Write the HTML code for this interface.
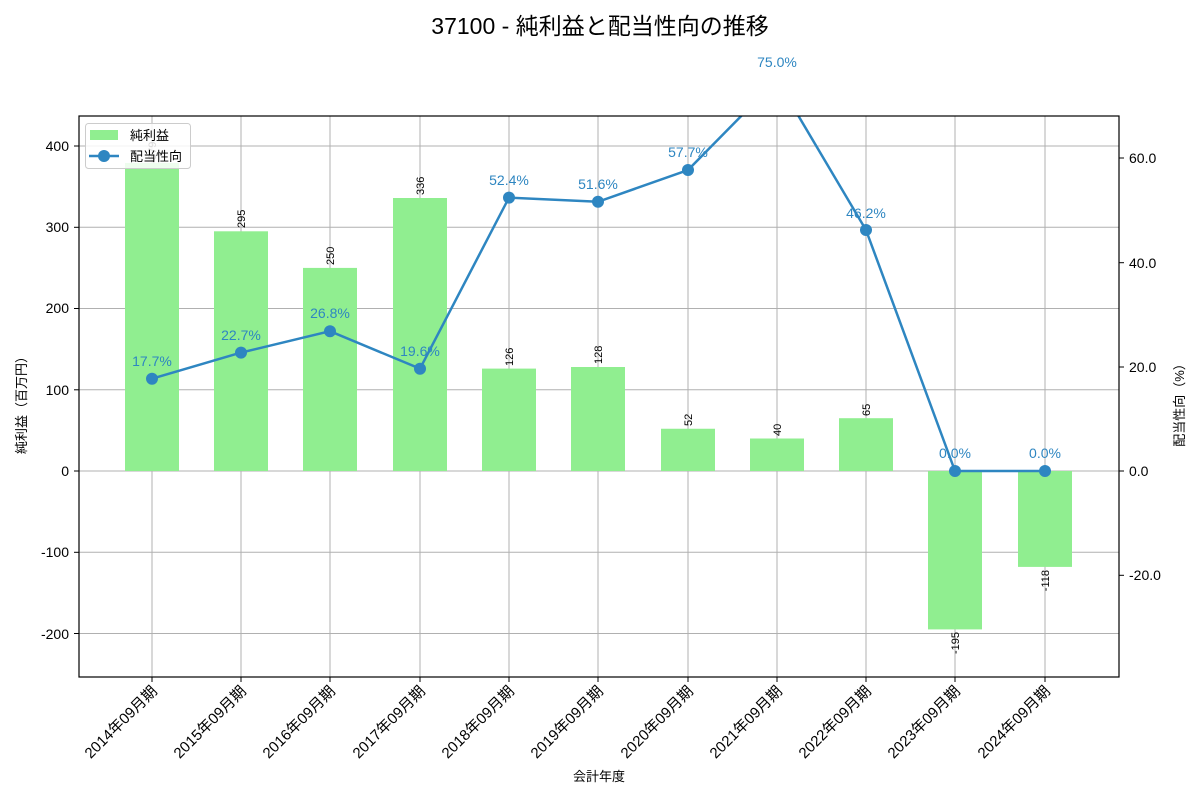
<!DOCTYPE html>
<html><head><meta charset="utf-8"><style>body{margin:0;background:#fff}svg text{font-family:"Liberation Sans","Noto Sans CJK JP",sans-serif}</style></head>
<body>
<svg width="1200" height="800" viewBox="0 0 1200 800" xmlns="http://www.w3.org/2000/svg">
<text x="600" y="34" font-size="23" text-anchor="middle" fill="#000">37100 - 純利益と配当性向の推移</text>
<defs><clipPath id="c"><rect x="79" y="116" width="1040" height="561"/></clipPath></defs>
<g stroke="#b0b0b0" stroke-width="1">
<line x1="79" x2="1119" y1="146" y2="146"/><line x1="79" x2="1119" y1="227.3" y2="227.3"/><line x1="79" x2="1119" y1="308.5" y2="308.5"/><line x1="79" x2="1119" y1="389.8" y2="389.8"/><line x1="79" x2="1119" y1="471" y2="471"/><line x1="79" x2="1119" y1="552.3" y2="552.3"/><line x1="79" x2="1119" y1="633.5" y2="633.5"/>
<line x1="152" x2="152" y1="116" y2="677"/><line x1="241" x2="241" y1="116" y2="677"/><line x1="330" x2="330" y1="116" y2="677"/><line x1="420" x2="420" y1="116" y2="677"/><line x1="509" x2="509" y1="116" y2="677"/><line x1="598" x2="598" y1="116" y2="677"/><line x1="688" x2="688" y1="116" y2="677"/><line x1="777" x2="777" y1="116" y2="677"/><line x1="866" x2="866" y1="116" y2="677"/><line x1="955" x2="955" y1="116" y2="677"/><line x1="1045" x2="1045" y1="116" y2="677"/>
</g>
<g fill="#90ee90" clip-path="url(#c)">
<rect x="125" y="163" width="54" height="308"/><rect x="214" y="231.3" width="54" height="239.7"/><rect x="303" y="267.9" width="54" height="203.1"/><rect x="393" y="198" width="54" height="273"/><rect x="482" y="368.6" width="54" height="102.4"/><rect x="571" y="367" width="54" height="104"/><rect x="661" y="428.75" width="54" height="42.25"/><rect x="750" y="438.5" width="54" height="32.5"/><rect x="839" y="418.2" width="54" height="52.8"/><rect x="928" y="471" width="54" height="158.4"/><rect x="1018" y="471" width="54" height="95.9"/>
</g>
<g font-size="11" fill="#000">
<text transform="translate(156,160) rotate(-90)">379</text>
<text transform="translate(245,228) rotate(-90)">295</text>
<text transform="translate(334,265) rotate(-90)">250</text>
<text transform="translate(424,195) rotate(-90)">336</text>
<text transform="translate(513,366) rotate(-90)">126</text>
<text transform="translate(602,364) rotate(-90)">128</text>
<text transform="translate(692,426) rotate(-90)">52</text>
<text transform="translate(781,436) rotate(-90)">40</text>
<text transform="translate(870,416) rotate(-90)">65</text>
<text transform="translate(959,632) rotate(-90)" text-anchor="end">-195</text>
<text transform="translate(1049,570) rotate(-90)" text-anchor="end">-118</text>
</g>
<g clip-path="url(#c)">
<polyline fill="none" stroke="#2e86c1" stroke-width="2.5" points="152,378.7 241,352.6 330,331.2 420,368.7 509,197.6 598,201.8 688,170 777,79.7 866,230 955,471 1045,471"/>
<g fill="#2e86c1"><circle cx="152" cy="378.7" r="6"/><circle cx="241" cy="352.6" r="6"/><circle cx="330" cy="331.2" r="6"/><circle cx="420" cy="368.7" r="6"/><circle cx="509" cy="197.6" r="6"/><circle cx="598" cy="201.8" r="6"/><circle cx="688" cy="170" r="6"/><circle cx="866" cy="230" r="6"/><circle cx="955" cy="471" r="6"/><circle cx="1045" cy="471" r="6"/></g>
</g>
<g font-size="14" fill="#2e86c1" text-anchor="middle">
<text x="152" y="366">17.7%</text><text x="241" y="340">22.7%</text><text x="330" y="318">26.8%</text><text x="420" y="356">19.6%</text><text x="509" y="185">52.4%</text><text x="598" y="189">51.6%</text><text x="688" y="157">57.7%</text><text x="777" y="67">75.0%</text><text x="866" y="218">46.2%</text><text x="955" y="458">0.0%</text><text x="1045" y="458">0.0%</text>
</g>
<rect x="79" y="116" width="1040" height="561" fill="none" stroke="#000" stroke-width="1.2"/>
<g font-size="14" fill="#000" text-anchor="end">
<text x="69" y="151">400</text><text x="69" y="232">300</text><text x="69" y="313">200</text><text x="69" y="395">100</text><text x="69" y="476">0</text><text x="69" y="557">-100</text><text x="69" y="639">-200</text>
</g>
<g stroke="#000"><line x1="74" x2="79" y1="146" y2="146"/><line x1="74" x2="79" y1="227.3" y2="227.3"/><line x1="74" x2="79" y1="308.5" y2="308.5"/><line x1="74" x2="79" y1="389.8" y2="389.8"/><line x1="74" x2="79" y1="471" y2="471"/><line x1="74" x2="79" y1="552.3" y2="552.3"/><line x1="74" x2="79" y1="633.5" y2="633.5"/>
<line x1="1119" x2="1124" y1="158" y2="158"/><line x1="1119" x2="1124" y1="262.7" y2="262.7"/><line x1="1119" x2="1124" y1="367" y2="367"/><line x1="1119" x2="1124" y1="471" y2="471"/><line x1="1119" x2="1124" y1="575.3" y2="575.3"/></g>
<g font-size="14" fill="#000">
<text x="1129" y="163">60.0</text><text x="1129" y="268">40.0</text><text x="1129" y="372">20.0</text><text x="1129" y="476">0.0</text><text x="1129" y="580">-20.0</text>
</g>
<g stroke="#000"><line x1="152" x2="152" y1="677" y2="682"/><line x1="241" x2="241" y1="677" y2="682"/><line x1="330" x2="330" y1="677" y2="682"/><line x1="420" x2="420" y1="677" y2="682"/><line x1="509" x2="509" y1="677" y2="682"/><line x1="598" x2="598" y1="677" y2="682"/><line x1="688" x2="688" y1="677" y2="682"/><line x1="777" x2="777" y1="677" y2="682"/><line x1="866" x2="866" y1="677" y2="682"/><line x1="955" x2="955" y1="677" y2="682"/><line x1="1045" x2="1045" y1="677" y2="682"/></g>
<g font-size="15" fill="#000" text-anchor="end">
<text transform="translate(158,692) rotate(-45)">2014年09月期</text>
<text transform="translate(247,692) rotate(-45)">2015年09月期</text>
<text transform="translate(336,692) rotate(-45)">2016年09月期</text>
<text transform="translate(426,692) rotate(-45)">2017年09月期</text>
<text transform="translate(515,692) rotate(-45)">2018年09月期</text>
<text transform="translate(604,692) rotate(-45)">2019年09月期</text>
<text transform="translate(694,692) rotate(-45)">2020年09月期</text>
<text transform="translate(783,692) rotate(-45)">2021年09月期</text>
<text transform="translate(872,692) rotate(-45)">2022年09月期</text>
<text transform="translate(961,692) rotate(-45)">2023年09月期</text>
<text transform="translate(1051,692) rotate(-45)">2024年09月期</text>
</g>
<text x="599" y="781" font-size="13" text-anchor="middle">会計年度</text>
<text transform="translate(26,402) rotate(-90)" font-size="13" text-anchor="middle">純利益（百万円）</text>
<text transform="translate(1184,402) rotate(-90)" font-size="13" text-anchor="middle">配当性向（%）</text>
<rect x="85.5" y="123.5" width="105" height="45" rx="3" fill="#fff" fill-opacity="0.85" stroke="#ccc"/>
<rect x="90" y="130" width="28" height="10" fill="#90ee90"/>
<text x="130" y="140" font-size="13">純利益</text>
<line x1="89" x2="119" y1="156" y2="156" stroke="#2e86c1" stroke-width="2.5"/>
<circle cx="104" cy="156" r="6" fill="#2e86c1"/>
<text x="130" y="161" font-size="13">配当性向</text>
</svg>
</body></html>
